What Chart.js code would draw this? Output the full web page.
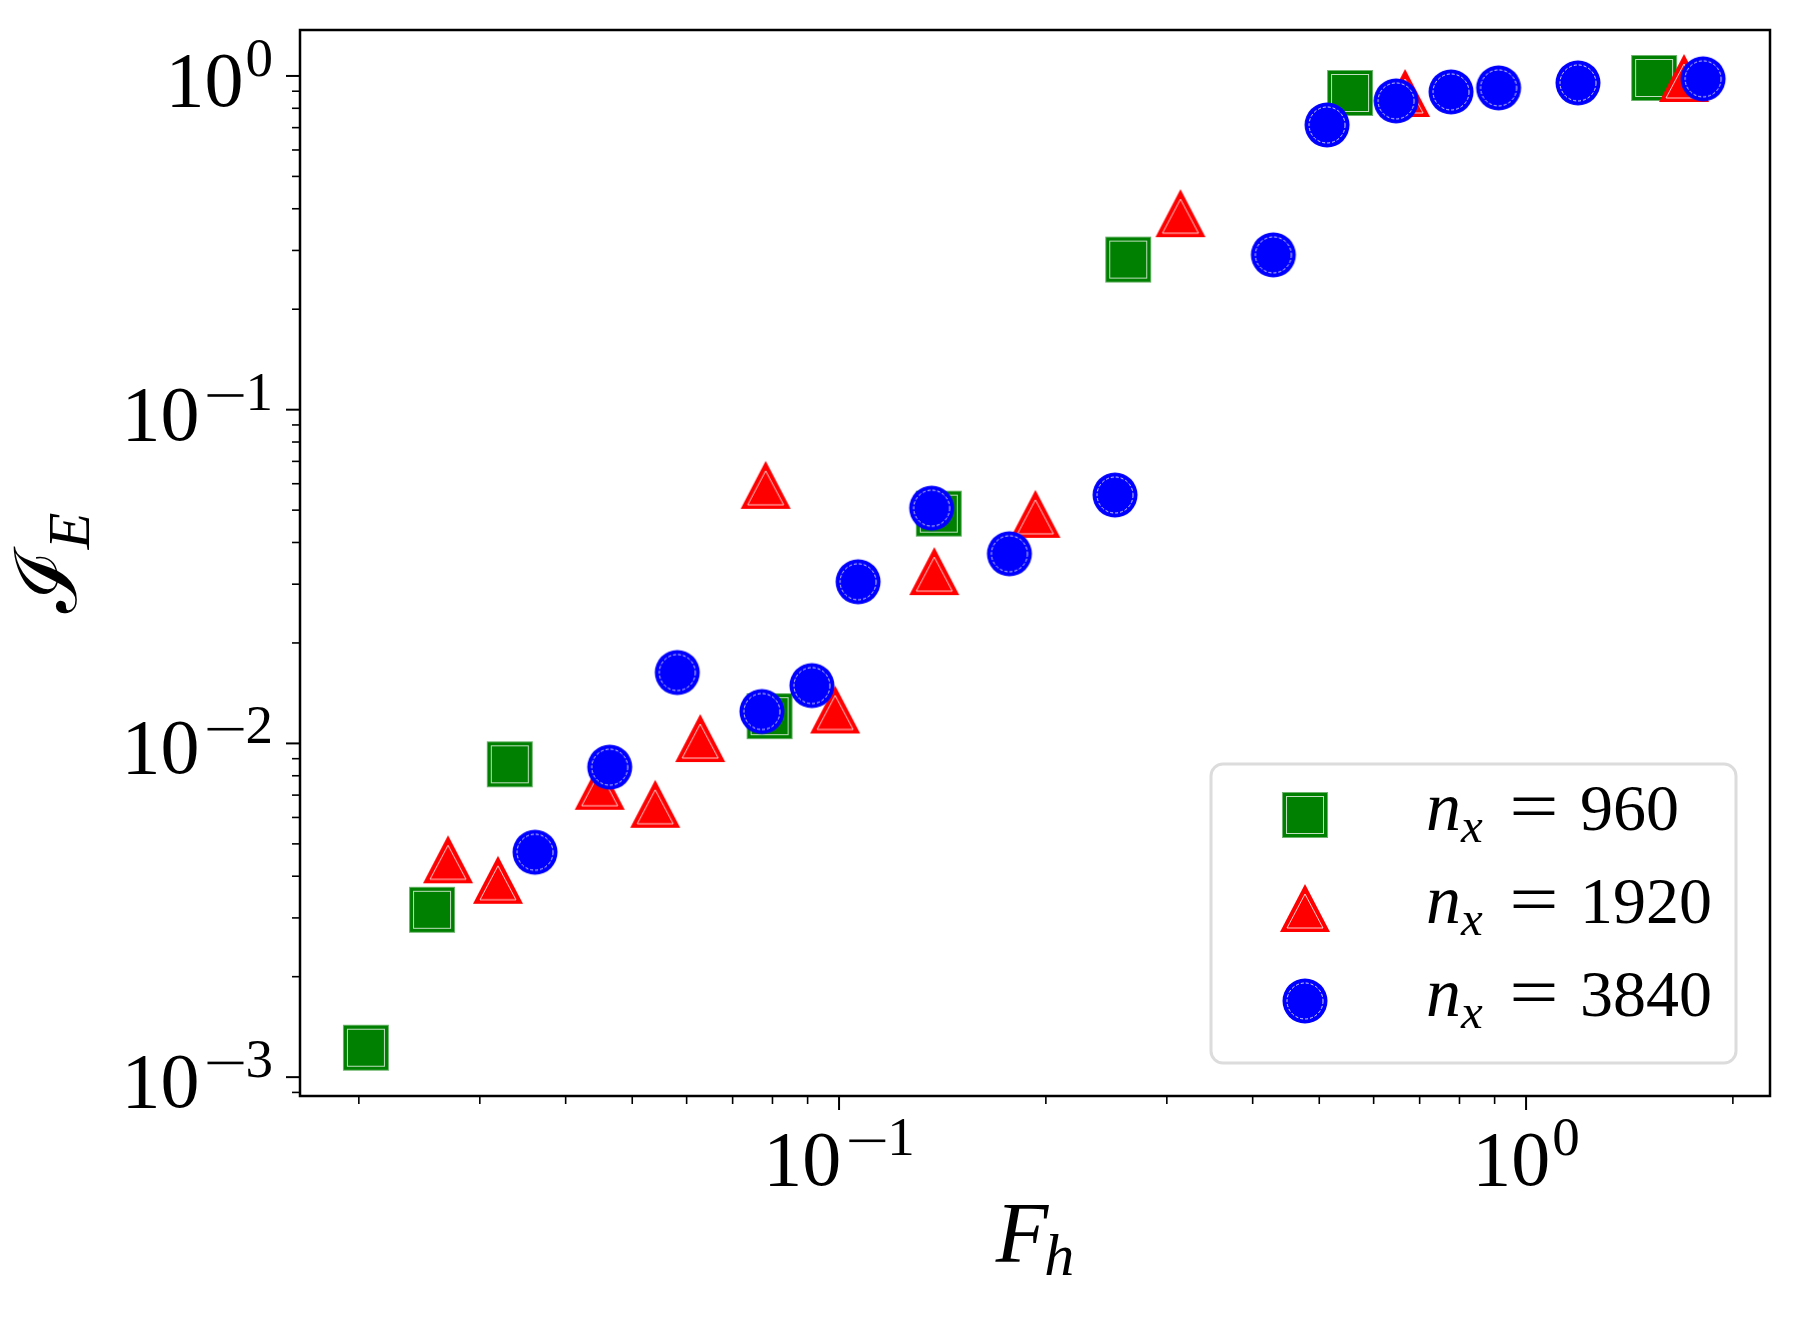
<!DOCTYPE html>
<html>
<head>
<meta charset="utf-8">
<script src="https://cdn.jsdelivr.net/npm/chart.js@4.4.1/dist/chart.umd.min.js"></script>
<style>
  html, body { margin: 0; padding: 0; background: #fff; }
  #grafico { display: block; }
</style>
</head>
<body>
<canvas id="grafico" width="1800" height="1320" style="width:1800px;height:1320px"></canvas>
<script>
// Dados (F_h, I_E) para cada resolução
const fh960 = [0.02048, 0.02556, 0.03317, 0.07924, 0.1397, 0.2636, 0.5543, 1.536];
const ie960 = [0.001225, 0.003173, 0.00866, 0.01207, 0.0488, 0.2817, 0.889, 0.986];

const fh1920 = [0.02697, 0.03188, 0.04484, 0.054, 0.0628, 0.0782, 0.0987, 0.1376, 0.1931, 0.314, 0.6667, 1.698];
const ie1920 = [0.004496, 0.003903, 0.007464, 0.006594, 0.01038, 0.05953, 0.01264, 0.03283, 0.04873, 0.388, 0.889, 0.986];

const fh3840 = [0.0361, 0.04637, 0.05815, 0.07722, 0.0913, 0.1066, 0.1364, 0.177, 0.2522, 0.4287, 0.5132, 0.6469, 0.7776, 0.912, 1.19, 1.81];
const ie3840 = [0.00472, 0.00849, 0.01631, 0.01246, 0.0149, 0.0305, 0.0507, 0.037, 0.0555, 0.2909, 0.713, 0.8418, 0.8956, 0.9206, 0.953, 0.98];

const legendas = ['960', '1920', '3840'];

// Ticks
const xTicksMajor = [0.1, 1];
const xTicksMinor = [0.02, 0.03, 0.04, 0.05, 0.06, 0.07, 0.08, 0.09, 0.2, 0.3, 0.4, 0.5, 0.6, 0.7, 0.8, 0.9, 2];
const xTickExp = ['-1', '0'];
const yTicksMajor = [0.001, 0.01, 0.1, 1];
const yTicksMinor = [0.0009, 0.002, 0.003, 0.004, 0.005, 0.006, 0.007, 0.008, 0.009,
                     0.02, 0.03, 0.04, 0.05, 0.06, 0.07, 0.08, 0.09,
                     0.2, 0.3, 0.4, 0.5, 0.6, 0.7, 0.8, 0.9];
const yTickExp = ['-3', '-2', '-1', '0'];

const SERIF = "'Liberation Serif', 'DejaVu Serif', serif";

// Marcadores desenhados em canvas (preenchimento + linha branca fina interna)
function marcador(tipo, cor) {
    const c = document.createElement('canvas');
    const g = c.getContext('2d');
    if (tipo === 'quadrado') {
        c.width = 48; c.height = 48;
        g.fillStyle = cor;
        g.fillRect(1, 1, 46, 46);
        g.strokeStyle = 'rgba(110,180,110,1)';
        g.lineWidth = 1;
        g.strokeRect(1.5, 1.5, 45, 45);
        g.strokeStyle = 'rgba(255,255,255,0.75)';
        g.strokeRect(5.5, 5.5, 37, 37);
    } else if (tipo === 'triangulo') {
        c.width = 52; c.height = 50;
        g.fillStyle = cor;
        g.beginPath();
        g.moveTo(26, 1); g.lineTo(51, 49); g.lineTo(1, 49); g.closePath();
        g.fill();
        g.strokeStyle = 'rgba(255,255,255,0.8)';
        g.lineWidth = 1;
        g.beginPath();
        g.moveTo(26, 11); g.lineTo(44, 45); g.lineTo(8, 45); g.closePath();
        g.stroke();
    } else {
        c.width = 48; c.height = 48;
        g.fillStyle = cor;
        g.beginPath();
        g.arc(24, 24, 22.5, 0, Math.PI * 2);
        g.fill();
        g.strokeStyle = 'rgba(255,255,255,0.85)';
        g.lineWidth = 1;
        g.setLineDash([3, 2]);
        g.beginPath();
        g.arc(24, 24, 18, 0, Math.PI * 2);
        g.stroke();
    }
    return c;
}

const mVerde = marcador('quadrado', '#008000');
const mVermelho = marcador('triangulo', '#ff0000');
const mAzul = marcador('circulo', '#0000ff');

function pontos(xs, ys) {
    return xs.map((x, i) => ({ x: x, y: ys[i] }));
}

// 10^n com expoente sobrescrito (sinal de menos mais largo, como no LaTeX)
function potencia(ctx, exp, x, y, align) {
    const neg = exp.startsWith('-');
    const dig = neg ? exp.slice(1) : exp;
    ctx.font = '78px ' + SERIF;
    const wBase = ctx.measureText('10').width;
    ctx.font = '55px ' + SERIF;
    const wMinus = neg ? 46 : 2;
    const wDig = ctx.measureText(dig).width;
    const total = wBase + wMinus + wDig;
    const x0 = align === 'right' ? x - total + 6 : x - total / 2;
    ctx.textAlign = 'left';
    ctx.textBaseline = 'alphabetic';
    ctx.font = '78px ' + SERIF;
    ctx.fillText('10', x0, y);
    let xs = x0 + wBase;
    if (neg) {
        // traço do menos
        ctx.fillRect(xs + 8, y - 30 - 15.5, 36, 2.6);
    }
    xs += wMinus;
    ctx.font = '55px ' + SERIF;
    ctx.fillText(dig, xs, y - 30);
}

const eixosPlugin = {
    id: 'eixosPlugin',
    afterDraw(chart) {
        const ctx = chart.ctx;
        const a = chart.chartArea;
        const sx = chart.scales.x;
        const sy = chart.scales.y;
        ctx.save();
        ctx.fillStyle = '#000';
        ctx.strokeStyle = '#000';

        // ticks do eixo x
        ctx.lineWidth = 2;
        xTicksMajor.forEach(v => {
            const p = sx.getPixelForValue(v);
            ctx.beginPath(); ctx.moveTo(p, a.bottom); ctx.lineTo(p, a.bottom + 14); ctx.stroke();
        });
        ctx.lineWidth = 1.6;
        xTicksMinor.forEach(v => {
            const p = sx.getPixelForValue(v);
            ctx.beginPath(); ctx.moveTo(p, a.bottom); ctx.lineTo(p, a.bottom + 8); ctx.stroke();
        });
        // ticks do eixo y
        ctx.lineWidth = 2;
        yTicksMajor.forEach(v => {
            const p = sy.getPixelForValue(v);
            ctx.beginPath(); ctx.moveTo(a.left, p); ctx.lineTo(a.left - 14, p); ctx.stroke();
        });
        ctx.lineWidth = 1.6;
        yTicksMinor.forEach(v => {
            const p = sy.getPixelForValue(v);
            ctx.beginPath(); ctx.moveTo(a.left, p); ctx.lineTo(a.left - 8, p); ctx.stroke();
        });

        // moldura
        ctx.lineWidth = 2.5;
        ctx.strokeRect(a.left, a.top, a.right - a.left, a.bottom - a.top);

        // rótulos dos ticks
        xTicksMajor.forEach((v, i) => {
            potencia(ctx, xTickExp[i], sx.getPixelForValue(v), a.bottom + 89, 'center');
        });
        yTicksMajor.forEach((v, i) => {
            potencia(ctx, yTickExp[i], a.left - 33, sy.getPixelForValue(v) + 30, 'right');
        });

        // título do eixo x: F_h
        ctx.font = 'italic 86px ' + SERIF;
        const wF = ctx.measureText('F').width;
        ctx.font = 'italic 60px ' + SERIF;
        const wh = ctx.measureText('h').width;
        const cx = (a.left + a.right) / 2;
        const x0 = cx - (wF + wh - 4) / 2;
        ctx.textAlign = 'left';
        ctx.font = 'italic 86px ' + SERIF;
        ctx.fillText('F', x0, a.bottom + 166);
        ctx.font = 'italic 60px ' + SERIF;
        ctx.fillText('h', x0 + wF - 4, a.bottom + 179);

        // título do eixo y: I_E (girado)
        ctx.save();
        ctx.translate(76, (a.top + a.bottom) / 2);
        ctx.rotate(-Math.PI / 2);
        ctx.font = '86px ' + SERIF;
        const wI = ctx.measureText('\u2110').width;
        ctx.font = 'italic 60px ' + SERIF;
        const wE = ctx.measureText('E').width;
        const y0 = -(wI + wE) / 2;
        ctx.font = '86px ' + SERIF;
        ctx.fillText('\u2110', y0, 0);
        ctx.font = 'italic 60px ' + SERIF;
        ctx.fillText('E', y0 + wI, 13);
        ctx.restore();

        // legenda
        const lw = 525, lh = 299;
        const lx = a.right - 34 - lw;
        const ly = a.bottom - 33 - lh;
        ctx.beginPath();
        ctx.roundRect(lx, ly, lw, lh, 12);
        ctx.fillStyle = 'rgba(255,255,255,0.85)';
        ctx.fill();
        ctx.lineWidth = 3;
        ctx.strokeStyle = '#dcdcdc';
        ctx.stroke();
        const marcas = [mVerde, mVermelho, mAzul];
        ctx.fillStyle = '#000';
        legendas.forEach((txt, i) => {
            const cy = ly + 51 + i * 93;
            const m = marcas[i];
            ctx.drawImage(m, lx + 94 - m.width / 2, cy - m.height / 2);
            const tx = lx + 215;
            const base = cy + 15;
            ctx.textAlign = 'left';
            ctx.font = 'italic 70px ' + SERIF;
            const wn = ctx.measureText('n').width;
            ctx.fillText('n', tx, base);
            ctx.font = 'italic 49px ' + SERIF;
            ctx.fillText('x', tx + wn, base + 12);
            ctx.font = '70px ' + SERIF;
            ctx.save();
            ctx.translate(tx + 108, base);
            ctx.scale(1.25, 1);
            ctx.textAlign = 'center';
            ctx.fillText('=', 0, 0);
            ctx.restore();
            ctx.textAlign = 'left';
            ctx.font = '66px ' + SERIF;
            ctx.fillText(txt, tx + 154, base);
        });
        ctx.restore();
    }
};

const config = {
    type: 'scatter',
    data: {
        datasets: [
            { label: 'n_x = 960', data: pontos(fh960, ie960), pointStyle: mVerde, order: 3 },
            { label: 'n_x = 1920', data: pontos(fh1920, ie1920), pointStyle: mVermelho, order: 2 },
            { label: 'n_x = 3840', data: pontos(fh3840, ie3840), pointStyle: mAzul, order: 1 }
        ]
    },
    options: {
        responsive: false,
        animation: false,
        devicePixelRatio: 1,
        layout: { padding: { left: 0, top: 30, right: 30, bottom: 0 } },
        scales: {
            x: {
                type: 'logarithmic',
                bounds: 'data',
                min: 0.01642,
                max: 2.265,
                ticks: { display: false },
                grid: { display: false },
                border: { display: false },
                afterFit: s => { s.height = 224; }
            },
            y: {
                type: 'logarithmic',
                bounds: 'data',
                min: 0.000878,
                max: 1.373,
                ticks: { display: false },
                grid: { display: false },
                border: { display: false },
                afterFit: s => { s.width = 300; }
            }
        },
        plugins: {
            legend: { display: false },
            tooltip: { enabled: false }
        }
    },
    plugins: [eixosPlugin]
};

const chart = new Chart(document.getElementById('grafico').getContext('2d'), config);
</script>
</body>
</html>
